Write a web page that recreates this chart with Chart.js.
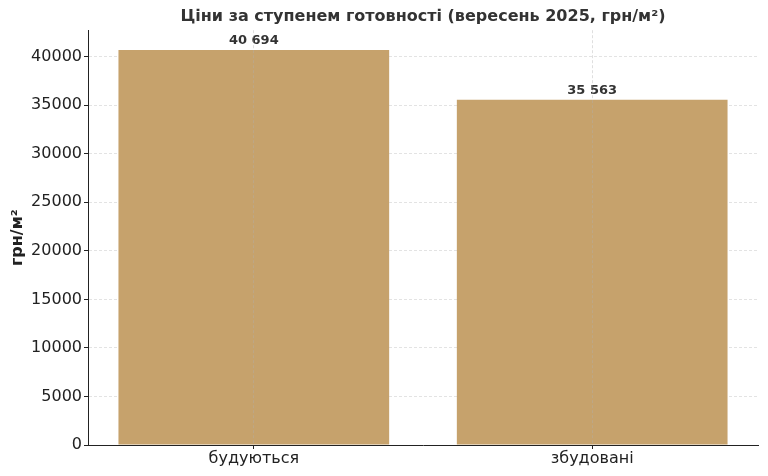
<!DOCTYPE html>
<html>
<head>
<meta charset="utf-8">
<script src="https://cdn.jsdelivr.net/npm/chart.js@4.4.1/dist/chart.umd.min.js"></script>
<style>
  html, body { margin: 0; padding: 0; background: #fff; }
  #wrap { width: 768px; height: 476px; }
</style>
</head>
<body>
<div id="wrap"><canvas id="price-chart" width="768" height="476"></canvas></div>
<script>
// data
var categories = ['будуються', 'збудовані'];
var prices = [40694, 35563];
var yTicks = [0, 5000, 10000, 15000, 20000, 25000, 30000, 35000, 40000];

var titleText = 'Ціни за ступенем готовності (вересень 2025, грн/м²)';
var yTitle = 'грн/м²';
var barColor = '#c6a26c';

Chart.defaults.font.family = '"DejaVu Sans", sans-serif';
Chart.defaults.color = '#222';

function fmt(v) {
  return String(v).replace(/\B(?=(\d{3})+(?!\d))/g, ' ');
}

// value labels above bars
var valueLabels = {
  id: 'valueLabels',
  afterDatasetsDraw: function (chart) {
    var ctx = chart.ctx;
    var meta = chart.getDatasetMeta(0);
    ctx.save();
    ctx.font = 'bold 13px "DejaVu Sans", sans-serif';
    ctx.fillStyle = '#333';
    ctx.textAlign = 'center';
    ctx.textBaseline = 'bottom';
    meta.data.forEach(function (bar, i) {
      ctx.fillText(fmt(prices[i]), bar.x, bar.y - 3);
    });
    ctx.restore();
  }
};

var ctx = document.getElementById('price-chart').getContext('2d');
var chart = new Chart(ctx, {
  type: 'bar',
  data: {
    datasets: [{
      data: categories.map(function (c, i) { return { x: i, y: prices[i] }; }),
      backgroundColor: barColor,
      borderWidth: 0,
      barPercentage: 0.8,
      categoryPercentage: 1
    }]
  },
  options: {
    responsive: false,
    animation: false,
    layout: { padding: { top: 0, right: 10, bottom: 0, left: 0 } },
    plugins: {
      legend: { display: false },
      tooltip: { enabled: false },
      title: {
        display: true,
        text: titleText,
        fullSize: false,
        color: '#333',
        font: { size: 16, weight: 'bold' },
        padding: { top: 7, bottom: 4 }
      }
    },
    scales: {
      x: {
        type: 'linear',
        offset: false,
        min: -0.49,
        max: 1.49,
        afterBuildTicks: function (s) {
          s.ticks = categories.map(function (c, i) { return { value: i }; });
        },
        afterFit: function (s) { s.height = 31; },
        ticks: {
          font: { size: 16 },
          padding: 0,
          callback: function (v) { return categories[v]; }
        },
        grid: {
          offset: false,
          z: 1,
          color: 'rgba(176,176,176,0.4)',
          tickColor: '#222',
          tickLength: 4,
          lineWidth: 1
        },
        border: { z: 1, color: '#222', width: 1, dash: [3, 2] }
      },
      y: {
        min: 0,
        max: 42728.7,
        afterBuildTicks: function (s) {
          s.ticks = yTicks.map(function (v) { return { value: v }; });
        },
        afterFit: function (s) { s.width = 88; },
        ticks: {
          font: { size: 16 },
          padding: 2,
          callback: function (v) { return String(v); }
        },
        grid: {
          color: 'rgba(176,176,176,0.35)',
          tickColor: '#222',
          tickLength: 4
        },
        border: { color: '#222', width: 1, dash: [3, 2] },
        title: {
          display: true,
          text: yTitle,
          color: '#222',
          font: { size: 16, weight: 'bold' },
          padding: { top: 8, bottom: 0 }
        }
      }
    }
  },
  plugins: [valueLabels]
});
</script>
</body>
</html>
